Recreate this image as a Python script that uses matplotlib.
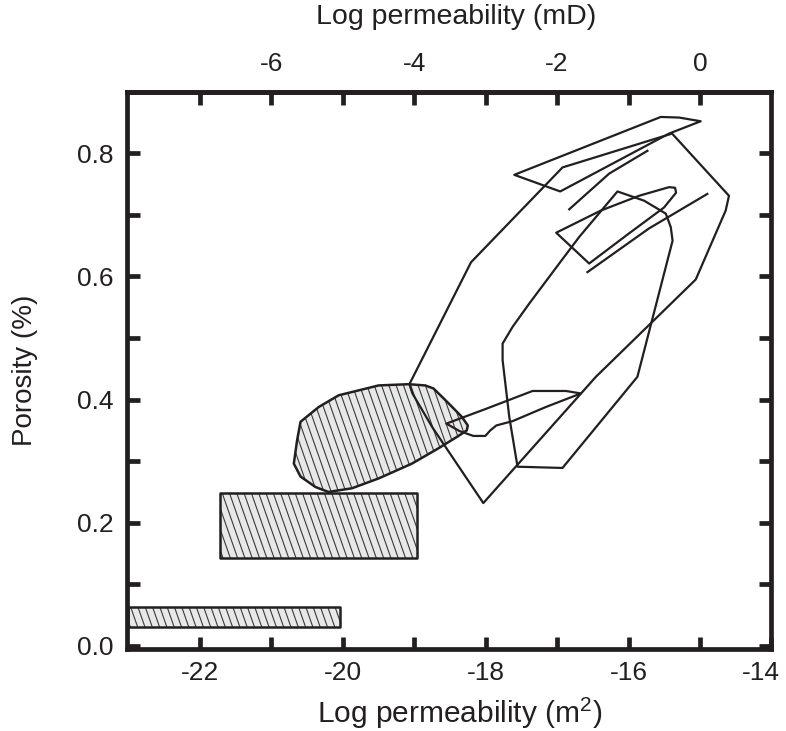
import numpy as np
import matplotlib
matplotlib.use("Agg")
import matplotlib.pyplot as plt
from matplotlib.patches import Polygon
from matplotlib.collections import LineCollection
from matplotlib.transforms import ScaledTranslation

plt.rcParams['font.family'] = ['Liberation Sans', 'DejaVu Sans']
plt.rcParams['mathtext.fontset'] = 'custom'
plt.rcParams['mathtext.rm'] = 'Liberation Sans'

INK = '#231f20'

# ---- hatched fields: log10 permeability (m^2) vs porosity ----
low_rect_k = [-23.0, -20.04]
low_rect_phi = [0.030, 0.064]
mid_rect_k = [-21.72, -18.96]
mid_rect_phi = [0.143, 0.248]
blob_k = [-19.077, -19.496, -20.055, -20.334, -20.589, -20.637, -20.683, -20.589,
          -20.380, -20.198, -19.869, -19.496, -19.031, -18.658, -18.379, -18.263,
          -18.249, -18.332, -18.518, -18.728, -18.844]
blob_phi = [0.425, 0.423, 0.407, 0.388, 0.364, 0.334, 0.296, 0.275, 0.258, 0.250,
            0.256, 0.272, 0.296, 0.321, 0.341, 0.350, 0.358, 0.372, 0.394, 0.418, 0.423]

# ---- outlined fields (closed loops) ----
a_k = [-19.066, -19.024, -18.745, -18.032, -16.457, -15.060, -14.641, -14.595,
       -15.391, -16.924, -18.204]
a_phi = [0.425, 0.410, 0.355, 0.232, 0.437, 0.595, 0.707, 0.731, 0.832, 0.777, 0.623]

b_k = [-16.155, -15.782, -15.479, -15.409, -15.384, -15.876, -16.924, -17.553,
       -17.669, -17.762, -17.762, -17.623, -17.389, -16.970, -16.691]
b_phi = [0.738, 0.723, 0.702, 0.680, 0.658, 0.437, 0.289, 0.291, 0.372, 0.464,
         0.491, 0.518, 0.556, 0.621, 0.664]

c_k = [-17.599, -15.549, -15.293, -14.990, -15.433, -16.956]
c_phi = [0.765, 0.859, 0.858, 0.852, 0.832, 0.738]

d_k = [-17.012, -16.387, -15.852, -15.433, -15.349, -15.335, -15.503, -15.992, -16.551]
d_phi = [0.671, 0.707, 0.731, 0.745, 0.744, 0.736, 0.712, 0.670, 0.621]

e_k = [-18.549, -17.994, -17.343, -16.876, -16.667, -17.156, -17.623, -17.850,
       -17.934, -18.004, -18.172, -18.367]
e_phi = [0.361, 0.385, 0.414, 0.414, 0.410, 0.388, 0.365, 0.358, 0.350, 0.341,
         0.341, 0.349]

# ---- open trend lines ----
f_k = [-16.830, -16.271, -15.736]
f_phi = [0.709, 0.767, 0.804]
g_k = [-14.898, -15.713, -16.575]
g_phi = [0.734, 0.678, 0.607]

# ---- axes ----
x_major = [-22, -20, -18, -16, -14]
x_minor = [-21, -19, -17, -15]
x_labels = ['-22', '-20', '-18', '-16', '-14']
y_major = [0.0, 0.2, 0.4, 0.6, 0.8]
y_minor = [0.1, 0.3, 0.5, 0.7]
y_labels = ['0.0', '0.2', '0.4', '0.6', '0.8']
md_major = [-6, -4, -2, 0]
md_minor = [-7, -5, -3, -1]
md_labels = ['-6', '-4', '-2', '0']
M2_TO_MD = 15.0  # log10(mD) = log10(m^2) + 15

fig = plt.figure(figsize=(7.86, 7.31), dpi=100)
ax = fig.add_axes([0.16221, 0.11218, 0.81934, 0.76238])
ax.set_xlim(-23.01, -14.0)
ax.set_ylim(-0.005, 0.9)
ax.set_autoscale_on(False)


def hatch(ax, patch, xs, ys, spacing_px=7.3, lean=0.35):
    """Steep back-slash hatching clipped to a patch."""
    x0, x1 = ax.get_xlim()
    y0, y1 = ax.get_ylim()
    sx = ax.bbox.width / (x1 - x0)
    sy = ax.bbox.height / (y1 - y0)
    X = np.asarray(xs) * sx
    Y = np.asarray(ys) * sy
    c = X + lean * Y
    cs = np.arange(np.floor(c.min() / spacing_px) * spacing_px,
                   c.max() + spacing_px, spacing_px)
    ylo, yhi = Y.min() - 2, Y.max() + 2
    segs = [[((cc - lean * ylo) / sx, ylo / sy), ((cc - lean * yhi) / sx, yhi / sy)]
            for cc in cs]
    lc = LineCollection(segs, colors='#3a3a3a', linewidths=0.8, zorder=2.1)
    ax.add_collection(lc, autolim=False)
    lc.set_clip_path(patch)


def hatched_field(xs, ys):
    pts = np.column_stack([xs, ys])
    fill = Polygon(pts, closed=True, facecolor='#e8e8e8', edgecolor='none', zorder=2)
    ax.add_patch(fill)
    hatch(ax, fill, xs, ys)
    ax.add_patch(Polygon(pts, closed=True, fill=False, edgecolor=INK,
                         linewidth=1.8, joinstyle='round', zorder=2.2))


for kk, pp in [(low_rect_k, low_rect_phi), (mid_rect_k, mid_rect_phi)]:
    hatched_field([kk[0], kk[1], kk[1], kk[0]], [pp[0], pp[0], pp[1], pp[1]])
hatched_field(blob_k, blob_phi)

for xs, ys in [(a_k, a_phi), (b_k, b_phi), (c_k, c_phi), (d_k, d_phi), (e_k, e_phi)]:
    ax.add_patch(Polygon(np.column_stack([xs, ys]), closed=True, fill=False,
                         edgecolor=INK, linewidth=1.6, joinstyle='round', zorder=3))
for xs, ys in [(f_k, f_phi), (g_k, g_phi)]:
    ax.plot(xs, ys, color=INK, linewidth=1.6, solid_joinstyle='round', zorder=3)

ax.set_xticks(x_major)
ax.set_xticks(x_minor, minor=True)
ax.set_xticklabels(x_labels)
ax.set_yticks(y_major)
ax.set_yticks(y_minor, minor=True)
ax.set_yticklabels(y_labels)
ax.tick_params(which='both', direction='in', length=9, width=3.4, color=INK,
               right=True, top=False, labelsize=19, labelcolor=INK)
ax.tick_params(axis='x', pad=9)
ax.tick_params(axis='y', pad=10)
for s in ax.spines.values():
    s.set_linewidth(3.4)
    s.set_color(INK)

# keep the last bottom label inside the figure edge
last = ax.xaxis.get_major_ticks()[-1].label1
last.set_transform(last.get_transform() + ScaledTranslation(-11 / 100, 0, fig.dpi_scale_trans))

sec = ax.secondary_xaxis('top', functions=(lambda k: k + M2_TO_MD, lambda k: k - M2_TO_MD))
sec.set_xticks(md_major)
sec.set_xticks(md_minor, minor=True)
sec.set_xticklabels(md_labels)
sec.tick_params(which='both', direction='in', length=9, width=3.4, color=INK,
                labelsize=19, labelcolor=INK, pad=11)
sec.spines['top'].set_linewidth(3.4)
sec.spines['top'].set_color(INK)

ax.set_xlabel('Log permeability (m$^{2}$)', fontsize=21.5, color=INK)
ax.xaxis.label.set_va('center')
ax.xaxis.set_label_coords(0.5155, -0.1148)
sec.set_xlabel('Log permeability (mD)', fontsize=20.5, color=INK)
sec.xaxis.label.set_va('center')
sec.xaxis.set_label_coords(0.510, 1.134, transform=ax.transAxes)
ax.set_ylabel('Porosity (%)', fontsize=20, color=INK)
ax.yaxis.label.set_va('center')
ax.yaxis.set_label_coords(-0.159, 0.5)

fig.savefig('out.png', dpi=100)
